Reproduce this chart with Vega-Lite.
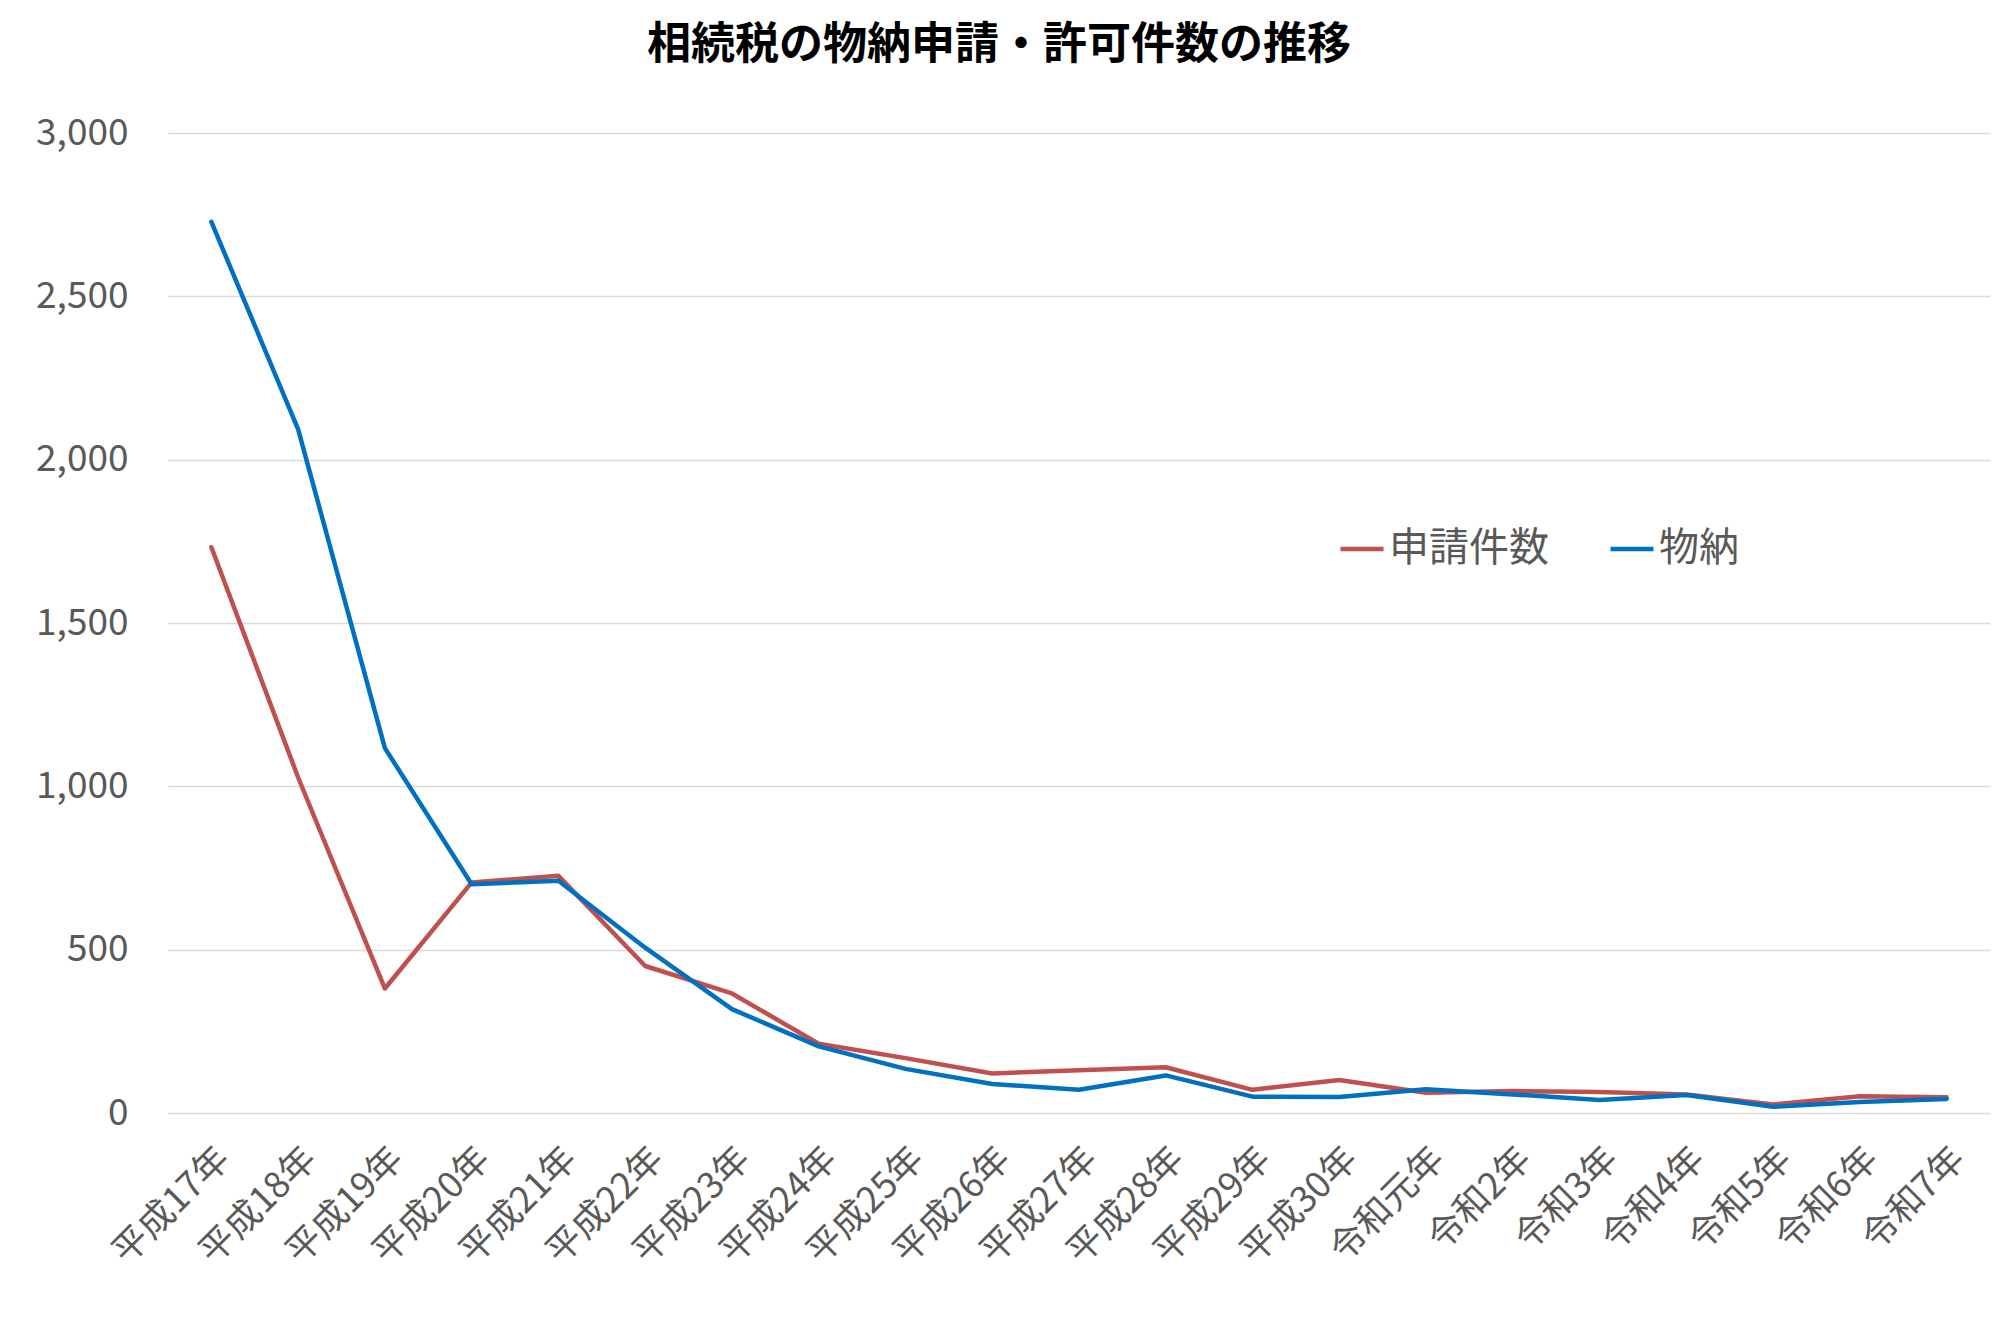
{
  "$schema": "https://vega.github.io/schema/vega-lite/v6.json",
  "width": 1822,
  "height": 980,
  "autosize": "none",
  "padding": {"left": 168, "top": 133, "right": 2, "bottom": 227},
  "background": "white",
  "config": {"view": {"stroke": null}},
  "title": {
    "text": "相続税の物納申請・許可件数の推移",
    "font": "Noto Sans CJK JP",
    "fontSize": 44,
    "fontWeight": "bold",
    "color": "#000000",
    "anchor": "middle",
    "baseline": "bottom",
    "dx": -80,
    "offset": 2
  },
  "data": {
    "values": [
      {"year": "平成17年", "series": "申請件数", "count": 1732},
      {"year": "平成18年", "series": "申請件数", "count": 1027},
      {"year": "平成19年", "series": "申請件数", "count": 381},
      {"year": "平成20年", "series": "申請件数", "count": 706},
      {"year": "平成21年", "series": "申請件数", "count": 726},
      {"year": "平成22年", "series": "申請件数", "count": 450},
      {"year": "平成23年", "series": "申請件数", "count": 366},
      {"year": "平成24年", "series": "申請件数", "count": 212},
      {"year": "平成25年", "series": "申請件数", "count": 168},
      {"year": "平成26年", "series": "申請件数", "count": 121},
      {"year": "平成27年", "series": "申請件数", "count": 131},
      {"year": "平成28年", "series": "申請件数", "count": 140},
      {"year": "平成29年", "series": "申請件数", "count": 71},
      {"year": "平成30年", "series": "申請件数", "count": 101},
      {"year": "令和元年", "series": "申請件数", "count": 62},
      {"year": "令和2年", "series": "申請件数", "count": 67},
      {"year": "令和3年", "series": "申請件数", "count": 64},
      {"year": "令和4年", "series": "申請件数", "count": 57},
      {"year": "令和5年", "series": "申請件数", "count": 26},
      {"year": "令和6年", "series": "申請件数", "count": 51},
      {"year": "令和7年", "series": "申請件数", "count": 48},
      {"year": "平成17年", "series": "物納", "count": 2728},
      {"year": "平成18年", "series": "物納", "count": 2093},
      {"year": "平成19年", "series": "物納", "count": 1117},
      {"year": "平成20年", "series": "物納", "count": 700},
      {"year": "平成21年", "series": "物納", "count": 711},
      {"year": "平成22年", "series": "物納", "count": 506},
      {"year": "平成23年", "series": "物納", "count": 318},
      {"year": "平成24年", "series": "物納", "count": 204},
      {"year": "平成25年", "series": "物納", "count": 135},
      {"year": "平成26年", "series": "物納", "count": 89},
      {"year": "平成27年", "series": "物納", "count": 71},
      {"year": "平成28年", "series": "物納", "count": 115},
      {"year": "平成29年", "series": "物納", "count": 50},
      {"year": "平成30年", "series": "物納", "count": 49},
      {"year": "令和元年", "series": "物納", "count": 73},
      {"year": "令和2年", "series": "物納", "count": 57},
      {"year": "令和3年", "series": "物納", "count": 40},
      {"year": "令和4年", "series": "物納", "count": 55},
      {"year": "令和5年", "series": "物納", "count": 19},
      {"year": "令和6年", "series": "物納", "count": 34},
      {"year": "令和7年", "series": "物納", "count": 43}
    ]
  },
  "mark": {"type": "line", "strokeWidth": 4.5, "strokeCap": "round", "strokeJoin": "round"},
  "encoding": {
    "x": {
      "field": "year",
      "type": "ordinal",
      "sort": null,
      "scale": {"padding": 0.5},
      "axis": {
        "title": null,
        "domain": false,
        "ticks": false,
        "grid": false,
        "labelAngle": -45,
        "labelAlign": "right",
        "labelBaseline": "top",
        "labelPadding": 28,
        "labelFont": "Noto Sans CJK JP",
        "labelFontSize": 36,
        "labelColor": "#595959"
      }
    },
    "y": {
      "field": "count",
      "type": "quantitative",
      "scale": {"domain": [0, 3000], "nice": false},
      "axis": {
        "title": null,
        "values": [0, 500, 1000, 1500, 2000, 2500, 3000],
        "format": ",.0f",
        "domain": false,
        "ticks": false,
        "grid": true,
        "gridColor": "#D9D9D9",
        "gridWidth": 1.5,
        "labelPadding": 40,
        "labelFont": "Noto Sans CJK JP",
        "labelFontSize": 37,
        "labelColor": "#595959"
      }
    },
    "color": {
      "field": "series",
      "type": "nominal",
      "scale": {"domain": ["申請件数", "物納"], "range": ["#C0504D", "#0070C0"]},
      "legend": {
        "title": null,
        "orient": "none",
        "direction": "horizontal",
        "legendX": 1170,
        "legendY": 392,
        "padding": 0,
        "symbolType": "stroke",
        "symbolSize": 1849,
        "symbolStrokeWidth": 4.5,
        "labelFont": "Noto Sans CJK JP",
        "labelFontSize": 40,
        "labelColor": "#595959",
        "labelOffset": 3,
        "columnPadding": 52
      }
    }
  }
}
